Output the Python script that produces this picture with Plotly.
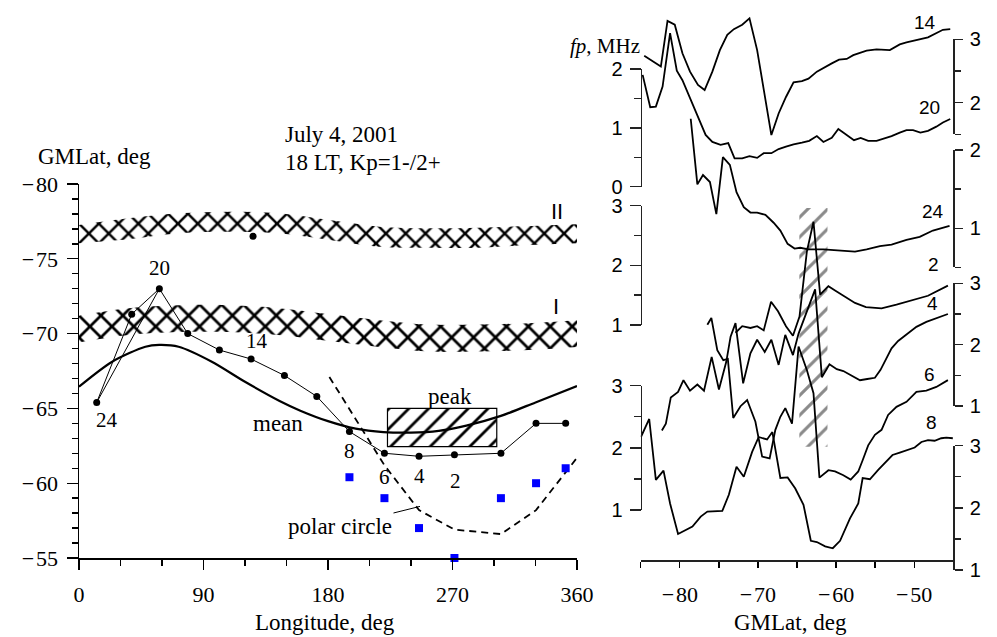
import plotly.graph_objects as go

W, H = 997, 637
SERIF = "Liberation Serif"
SANS = "Liberation Sans"

# ================= LEFT PANEL DATA (GMLat vs longitude) =================
band_lon = [0, 36, 72, 108, 144, 181, 217, 253, 289, 325, 360]
band2_top = [-77.26, -77.71, -78.04, -78.15, -78.04, -77.59, -77.15, -77.04, -77.08, -77.19, -77.31]
band2_bot = [-76.04, -76.30, -76.70, -76.81, -76.70, -76.26, -75.81, -75.74, -75.74, -75.92, -76.04]
band1_top = [-71.2, -71.7, -71.9, -71.9, -71.7, -71.3, -70.9, -70.6, -70.6, -70.7, -70.9]
band1_bot = [-69.4, -69.9, -70.1, -70.1, -69.9, -69.5, -69.1, -68.8, -68.8, -68.9, -69.1]

mean_lon = [0, 24, 48, 58, 72, 96, 120, 145, 160, 180, 200, 220, 240, 260, 280, 305, 330, 360]
mean_lat = [-66.45, -68.12, -69.12, -69.24, -69.12, -68.12, -66.78, -65.5, -64.85, -64.15,
            -63.65, -63.42, -63.38, -63.5, -63.85, -64.5, -65.4, -66.5]

orbit_lon = [12.8, 38.1, 58.1, 78.6, 101.5, 124.4, 148.5, 171.9, 195.5, 220.8, 245.8, 271.4, 305.0, 330.4, 351.8]
orbit_lat = [-65.4, -71.3, -73.0, -70.0, -68.9, -68.3, -67.2, -65.8, -63.45, -62.0, -61.8, -61.9, -62.0, -64.0, -64.0]
orbit_ut = ["24", "", "20", "", "", "14", "", "", "8", "6", "4", "2", "", "", ""]
link_from, link_to = 0, 2   # extra link 24 -> 20

lone_lon = [125.8]
lone_lat = [-76.5]

square_lon = [195.5, 220.8, 245.8, 271.4, 305.0, 330.4, 351.8]
square_lat = [-60.4, -59.0, -57.0, -55.0, -59.0, -60.0, -61.0]

polar_lon = [181, 220.8, 245.8, 271.4, 305, 330.4, 360]
polar_lat = [-67.1, -61.2, -58.2, -56.9, -56.6, -58.2, -61.7]

peak_lon = [223, 302]
peak_lat = [-65.0, -62.45]

lon_ticks = [0, 90, 180, 270, 360]
lat_ticks = [-80, -75, -70, -65, -60, -55]

# ================= RIGHT PANEL DATA (fp vs GMLat) =================
lat14 = [-84.55, -82.42, -81.57, -80.64, -79.66, -78.69, -77.67, -76.82, -75.83, -74.87, -73.92, -73.08,
         -72.01, -71.08, -70.10, -69.26, -68.28, -67.35, -66.41, -65.44, -64.37, -63.53, -62.46, -60.55,
         -59.62, -58.64, -57.80, -56.09, -54.82, -53.12, -51.85, -50.99, -48.24, -46.33, -45.39]
fp14 = [2.74, 2.57, 3.29, 3.23, 2.78, 2.49, 2.28, 2.20, 2.49, 2.83, 3.07, 3.16, 3.23, 3.33, 2.83, 2.20,
        1.49, 1.83, 2.09, 2.32, 2.34, 2.38, 2.49, 2.62, 2.68, 2.69, 2.75, 2.82, 2.84, 2.83, 2.92, 2.95,
        3.03, 3.15, 3.16]

lat20 = [-84.75, -83.78, -83.06, -82.20, -81.24, -80.38, -79.66, -78.60, -77.67, -76.69, -75.83, -74.78,
         -73.80, -72.99, -72.01, -71.08, -70.10, -69.26, -68.28, -67.35, -66.41, -65.44, -64.37, -63.44,
         -62.46, -61.62, -60.55, -59.71, -58.64, -57.71, -56.85, -55.89, -54.82, -53.97, -52.90, -51.85,
         -50.99, -50.15, -49.21, -48.24, -47.17, -46.33, -45.39]
fp20 = [1.90, 1.35, 1.36, 1.70, 2.61, 1.97, 1.81, 1.47, 1.19, 0.88, 0.76, 0.71, 0.74, 0.48, 0.48, 0.52,
        0.49, 0.57, 0.57, 0.64, 0.68, 0.72, 0.75, 0.78, 0.86, 0.76, 0.83, 0.98, 0.88, 0.79, 0.83, 0.78,
        0.78, 0.81, 0.86, 0.92, 0.96, 0.96, 0.92, 0.95, 1.02, 1.09, 1.15]

lat24 = [-78.60, -77.75, -77.03, -76.14, -75.32, -74.48, -73.59, -72.74, -71.81, -70.96, -70.10, -69.04,
         -67.99, -67.13, -66.20, -65.31, -64.59, -63.53, -61.62, -59.49, -57.58, -56.09, -54.39, -52.90,
         -50.99, -49.30, -47.61, -45.48]
fp24 = [2.40, 1.56, 1.68, 1.59, 1.18, 1.91, 1.81, 1.46, 1.27, 1.20, 1.20, 1.17, 1.07, 0.97, 0.80, 0.74,
        0.75, 0.73, 0.73, 0.71, 0.70, 0.73, 0.77, 0.79, 0.85, 0.89, 0.97, 1.03]

lat2 = [-72.87, -72.01, -70.96, -70.10, -69.26, -68.32, -67.43, -66.41, -65.52, -64.68, -63.74, -62.89,
        -62.04, -60.98, -60.13, -58.64, -57.58, -56.18, -54.18, -52.27, -50.15, -48.24, -45.69]
fp2 = [0.87, 0.98, 0.95, 0.98, 0.91, 1.39, 1.23, 0.98, 0.82, 1.14, 2.23, 2.73, 1.51, 1.65, 1.58, 1.45,
       1.37, 1.30, 1.28, 1.34, 1.42, 1.49, 1.66]

lat4 = [-82.29, -81.78, -81.15, -80.22, -79.53, -78.69, -77.75, -76.90, -75.92, -74.99, -74.05, -73.50,
        -72.87, -71.89, -70.96, -70.10, -69.13, -68.28, -67.35, -66.50, -65.52, -64.80, -62.68, -61.82,
        -60.85, -59.91, -59.07, -58.00, -56.94, -56.01, -55.03, -54.31, -53.54, -52.90, -52.06, -50.99,
        -49.72, -48.45, -46.97, -45.69]
fp4 = [0.60, 0.71, 1.14, 1.23, 1.42, 1.25, 1.35, 1.25, 1.80, 1.27, 1.72, 2.13, 2.35, 1.37, 1.86, 2.08,
       1.88, 2.08, 1.67, 2.16, 1.83, 2.18, 2.90, 1.47, 1.68, 1.60, 1.57, 1.49, 1.42, 1.44, 1.46, 1.59,
       1.77, 1.94, 2.06, 2.17, 2.29, 2.37, 2.44, 2.50]

lat6 = [-76.47, -75.96, -75.20, -74.43, -73.85, -73.16, -72.23, -71.38, -70.32, -69.46, -68.50, -67.77,
        -67.13, -66.50, -65.64, -64.80, -63.73, -62.89, -62.13, -60.98, -60.13, -59.07, -58.13, -57.16,
        -56.60, -55.89, -55.03, -54.18, -53.34, -52.27, -50.99, -49.72, -48.45, -47.17, -45.69]
fp6 = [3.98, 4.09, 3.57, 3.41, 3.43, 2.48, 2.67, 2.77, 2.42, 1.86, 1.83, 2.29, 2.50, 2.64, 2.39, 3.63,
       3.25, 2.88, 1.52, 1.64, 1.62, 1.56, 1.49, 1.62, 1.80, 2.04, 2.21, 2.29, 2.53, 2.66, 2.74, 2.90,
       2.92, 2.98, 3.09]

lat8 = [-84.97, -83.91, -83.06, -82.08, -81.24, -80.22, -78.38, -77.32, -76.47, -74.56, -73.72, -72.74,
        -71.81, -70.74, -69.90, -68.83, -68.15, -67.13, -66.20, -65.22, -64.17, -63.23, -62.46, -61.40,
        -60.42, -59.49, -58.22, -57.16, -56.60, -55.67, -54.61, -53.63, -52.78, -51.85, -50.79, -49.94,
        -49.08, -48.24, -47.39, -46.54, -45.90, -45.06]
fp8 = [3.14, 3.43, 2.45, 2.60, 2.07, 1.58, 1.70, 1.86, 1.94, 1.95, 2.21, 2.66, 2.50, 2.90, 3.14, 3.10,
       3.22, 2.48, 2.49, 2.31, 2.05, 1.47, 1.45, 1.38, 1.35, 1.47, 1.83, 2.07, 2.48, 2.46, 2.61, 2.73,
       2.85, 2.89, 2.93, 2.97, 3.06, 3.09, 3.08, 3.12, 3.13, 3.12]

hatch_lat = [-64.7, -61.1]
hatch_fp = [-1.04, 2.96]     # on the scale of the "2" axis

gm_ticks = [-80, -70, -60, -50]

# ================= LAYOUT GEOMETRY (pixels) =================
def fx(px):
    return px / W

def fy(py):
    return 1 - py / H

L_X0, L_X1, L_Y0, L_Y1 = 79, 577, 184, 558
R_X0, R_X1, R_BOT = 640.7, 953.3, 560.0

# stacked fp axes: side, top px, top value, bottom px, bottom value
seg = {
    "LA": ("left", 69.0, 2.0, 186.7, 0.0),
    "LB": ("left", 205.7, 3.0, 325.0, 1.0),
    "LC": ("left", 385.7, 3.0, 510.0, 1.0),
    "RA": ("right", 39.3, 3.0, 134.4, 1.5),
    "RB": ("right", 150.0, 2.0, 267.3, 0.5),
    "RC": ("right", 283.3, 3.0, 406.0, 1.0),
    "RD": ("right", 445.7, 3.0, 570.0, 1.0),
}


def full_range(key):
    _, tp, tv, bp, bv = seg[key]
    s = (bp - tp) / (tv - bv)
    return [tv - (R_BOT - tp) / s, tv + tp / s]


def neg_label(v):
    return ("\u2212\u200a" + str(abs(v))) if v < 0 else str(v)


fig = go.Figure()
blk = "black"

# ---------- left panel traces ----------
for top, bot, sz in [(band2_top, band2_bot, 14), (band1_top, band1_bot, 15.5)]:
    fig.add_trace(go.Scatter(x=band_lon, y=top, mode="lines", line=dict(width=0, shape="spline"),
                             hoverinfo="skip", xaxis="x", yaxis="y"))
    fig.add_trace(go.Scatter(x=band_lon, y=bot, mode="lines", line=dict(width=0, shape="spline"),
                             fill="tonexty", fillcolor="rgba(0,0,0,0)",
                             fillpattern=dict(shape="x", size=sz, solidity=0.32, fgcolor=blk,
                                              bgcolor="rgba(0,0,0,0)", fgopacity=1),
                             hoverinfo="skip", xaxis="x", yaxis="y"))

fig.add_trace(go.Scatter(x=mean_lon, y=mean_lat, mode="lines",
                         line=dict(color=blk, width=2.2, shape="spline", smoothing=0.8),
                         xaxis="x", yaxis="y"))

fig.add_trace(go.Scatter(x=polar_lon, y=polar_lat, mode="lines",
                         line=dict(color=blk, width=1.8, dash="7px,5px"), xaxis="x", yaxis="y"))

rx = [peak_lon[0], peak_lon[1], peak_lon[1], peak_lon[0], peak_lon[0]]
ry = [peak_lat[0], peak_lat[0], peak_lat[1], peak_lat[1], peak_lat[0]]
fig.add_trace(go.Scatter(x=rx, y=ry, mode="lines", fill="toself", fillcolor="rgba(0,0,0,0)",
                         fillpattern=dict(shape="/", size=14, solidity=0.2, fgcolor=blk,
                                          bgcolor="rgba(0,0,0,0)", fgopacity=1),
                         line=dict(color=blk, width=1.2), xaxis="x", yaxis="y"))

fig.add_trace(go.Scatter(x=orbit_lon, y=orbit_lat, mode="lines+markers",
                         line=dict(color=blk, width=1),
                         marker=dict(color=blk, size=7), cliponaxis=False, xaxis="x", yaxis="y"))
fig.add_trace(go.Scatter(x=[orbit_lon[link_from], orbit_lon[link_to]],
                         y=[orbit_lat[link_from], orbit_lat[link_to]], mode="lines",
                         line=dict(color=blk, width=1), xaxis="x", yaxis="y"))
fig.add_trace(go.Scatter(x=lone_lon, y=lone_lat, mode="markers", marker=dict(color=blk, size=7),
                         xaxis="x", yaxis="y"))
fig.add_trace(go.Scatter(x=square_lon, y=square_lat, mode="markers",
                         marker=dict(color="#0000ff", size=8, symbol="square"),
                         cliponaxis=False, xaxis="x", yaxis="y"))

# ---------- right panel traces ----------
fig.add_trace(go.Scatter(x=[hatch_lat[0], hatch_lat[1], hatch_lat[1], hatch_lat[0], hatch_lat[0]],
                         y=[hatch_fp[0], hatch_fp[0], hatch_fp[1], hatch_fp[1], hatch_fp[0]],
                         mode="lines", fill="toself", fillcolor="rgba(0,0,0,0)",
                         fillpattern=dict(shape="/", size=14, solidity=0.22, fgcolor="#8a8a8a",
                                          bgcolor="rgba(0,0,0,0)", fgopacity=1),
                         line=dict(width=0), xaxis="x2", yaxis="y2"))

right_traces = [  # (lat, fp, axis key, yaxis id)
    (lat2, fp2, "LB", "y2"),
    (lat14, fp14, "RA", "y3"),
    (lat20, fp20, "LA", "y4"),
    (lat24, fp24, "RB", "y5"),
    (lat4, fp4, "RC", "y6"),
    (lat6, fp6, "LC", "y7"),
    (lat8, fp8, "RD", "y8"),
]
for la, fp, key, yid in right_traces:
    fig.add_trace(go.Scatter(x=la, y=fp, mode="lines", line=dict(color=blk, width=1.8),
                             xaxis="x2", yaxis=yid))

seg_ids = {}
for i, key in enumerate(seg):
    yid = "y%d" % (9 + i)
    seg_ids[key] = yid
    fig.add_trace(go.Scatter(x=[None], y=[None], mode="lines", xaxis="x2", yaxis=yid,
                             hoverinfo="skip"))

# ---------- layout ----------
serif_tick = dict(family=SERIF, size=22, color=blk)
layout = dict(
    template="none",
    width=W, height=H, margin=dict(l=0, r=0, t=0, b=0, pad=0, autoexpand=False),
    paper_bgcolor="white", plot_bgcolor="rgba(0,0,0,0)", showlegend=False,
    xaxis=dict(domain=[fx(L_X0), fx(L_X1)], range=[0, 360], anchor="y", automargin=False,
               tickvals=lon_ticks, ticktext=[str(v) for v in lon_ticks],
               ticks="outside", ticklen=10, tickwidth=1.4, tickcolor=blk,
               minor=dict(dtick=30, tick0=0, ticks="outside", ticklen=6, tickwidth=1.4, tickcolor=blk),
               showline=True, linewidth=1.5, linecolor=blk, showgrid=False, zeroline=False,
               tickfont=serif_tick, ticklabelstandoff=6),
    yaxis=dict(domain=[fy(L_Y1), fy(L_Y0)], range=[-55, -80], anchor="x", automargin=False,
               tickvals=lat_ticks, ticktext=[neg_label(v) for v in lat_ticks],
               ticks="outside", ticklen=11, tickwidth=1.4, tickcolor=blk,
               minor=dict(dtick=1, tick0=0, ticks="outside", ticklen=6, tickwidth=1.4, tickcolor=blk),
               showline=True, linewidth=1.5, linecolor=blk, showgrid=False, zeroline=False,
               tickfont=serif_tick, ticklabelstandoff=4),
    xaxis2=dict(domain=[fx(R_X0), fx(R_X1)], range=[-85, -45], anchor="y2", automargin=False,
                tickvals=gm_ticks, ticktext=[neg_label(v) for v in gm_ticks],
                ticks="outside", ticklen=6, tickwidth=1.4, tickcolor=blk,
                minor=dict(dtick=5, tick0=0, ticks="outside", ticklen=6, tickwidth=1.4, tickcolor=blk),
                showline=True, linewidth=1.5, linecolor="#222", showgrid=False, zeroline=False,
                tickfont=serif_tick, ticklabelstandoff=8),
    yaxis2=dict(domain=[fy(R_BOT), 1], range=full_range("LB"), anchor="x2", visible=False,
                showgrid=False, zeroline=False, automargin=False),
)
for la, fp, key, yid in right_traces[1:]:
    layout["yaxis" + yid[1:]] = dict(overlaying="y2", anchor="x2", range=full_range(key),
                                      visible=False, showgrid=False, zeroline=False, automargin=False)

for key, yid in seg_ids.items():
    side, tp, tv, bp, bv = seg[key]
    xpos = R_X0 if side == "left" else R_X1
    layout["yaxis" + yid[1:]] = dict(
        domain=[fy(bp), fy(tp)], range=[bv, tv], anchor="free", position=fx(xpos), side=side,
        automargin=False,
        dtick=1, tick0=0, ticks="outside", ticklen=11 if side == "left" else 8,
        tickwidth=1.4, tickcolor="#222",
        minor=dict(dtick=0.5, tick0=0, ticks="outside", ticklen=7 if side == "left" else 6,
                   tickwidth=1.4, tickcolor="#222"),
        showline=True, linewidth=1.5, linecolor="#222", showgrid=False, zeroline=False,
        tickfont=dict(family=SANS, size=20, color=blk), ticklabelstandoff=3)

fig.update_layout(**layout)

# ---------- annotations ----------
def txt(text, x, y, size=23, family=SERIF, xanchor="center", **kw):
    fig.add_annotation(text=text, x=fx(x), y=fy(y), xref="paper", yref="paper", showarrow=False,
                       xanchor=xanchor, yanchor="middle", font=dict(family=family, size=size, color=blk),
                       **kw)

txt("GMLat, deg", 94, 157)
txt("July 4, 2001", 283, 134, xanchor="left")
txt("18 LT, Kp=1-/2+", 283, 162, xanchor="left")
txt("II", 557, 211, size=22, family=SANS)
txt("I", 556, 307, size=22, family=SANS)
txt("mean", 278, 423)
txt("peak", 450, 396)
txt("Longitude, deg", 325, 622)
txt("GMLat, deg", 790, 622)
txt("<i>fp</i>, MHz", 642, 46, size=21, xanchor="right")

ut_offsets = {"24": (10, -18), "20": (0, 21), "14": (6, 18), "8": (0, -19),
              "6": (0, -24), "4": (0, -20), "2": (1, -26)}
for lo, la, lab in zip(orbit_lon, orbit_lat, orbit_ut):
    if lab:
        dx, dy = ut_offsets[lab]
        fig.add_annotation(text=lab, x=lo, y=la, xref="x", yref="y", showarrow=False,
                           xshift=dx, yshift=dy, font=dict(family=SERIF, size=21, color=blk))

fig.add_annotation(text="polar circle", x=246.5, y=-58.45, xref="x", yref="y", showarrow=True,
                   arrowhead=0, arrowwidth=1, arrowcolor=blk, ax=-80, ay=20, standoff=0,
                   font=dict(family=SERIF, size=23, color=blk))

for lab, x, y in [("14", 925, 22), ("20", 929, 107), ("24", 933, 211), ("2", 933, 265),
                  ("4", 932, 303), ("6", 929, 374), ("8", 931, 422)]:
    txt(lab, x, y, size=19, family=SANS)

fig.write_html("out.html", config={"displayModeBar": False, "staticPlot": True},
               post_script="document.body.style.margin='0px';document.body.style.padding='0px';")
